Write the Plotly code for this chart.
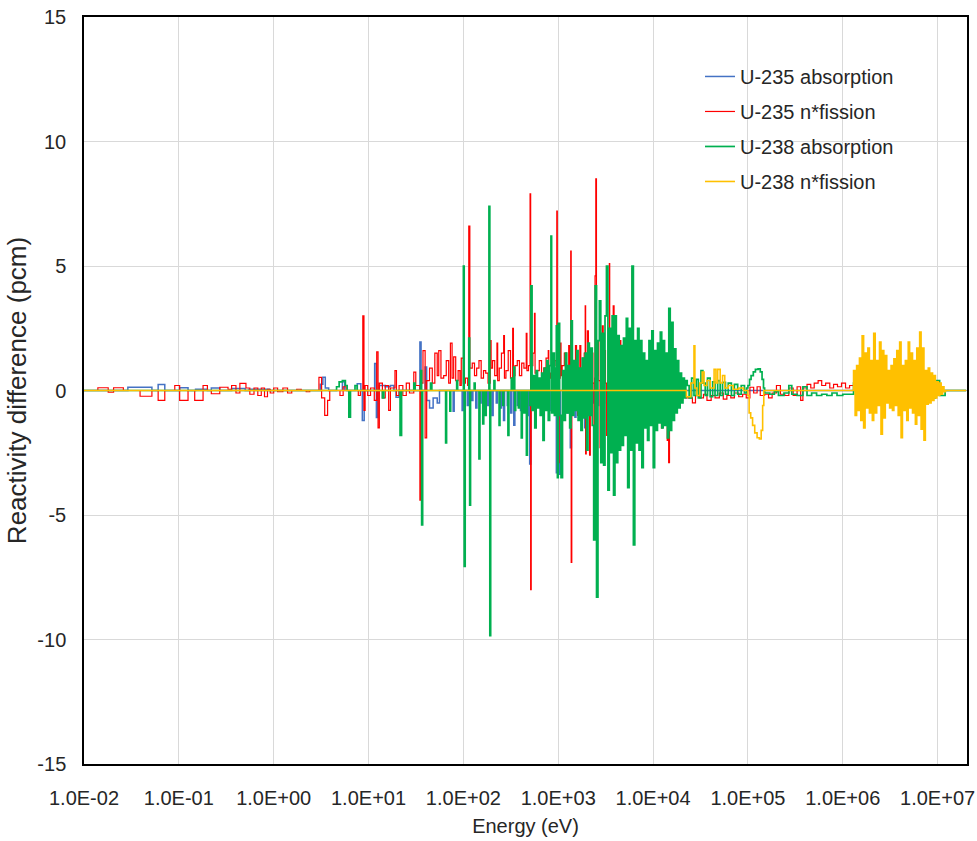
import plotly.graph_objects as go

# ---------------- data (energy in eV, reactivity difference in pcm) ----------------
# each series: (group lower energy, value) pairs, drawn as steps
u235_absorption = [
    (0.01, 0), (0.029, 0.13), (0.052, 0), (0.0605, 0.24), (0.0711, 0), (0.102, 0.11), (0.125, 0),
    (0.15, 0.05), (0.2, 0), (0.22, 0.1), (0.27, 0), (0.36, 0.08), (0.5, 0), (0.55, 0.05), (0.9, 0),
    (3.1, 0.25), (3.3, 0.53), (3.5, 0.1), (3.8, 0), (5.3, 0.35), (5.6, 0), (7.6, 0.27), (8.3, 0),
    (8.6, -1.2), (9.0, 0), (11.6, 1.08), (12.1, -1.08), (12.5, 0), (13, 0.2), (15, 0.15), (17, 0.2),
    (18.5, 0), (19.5, -0.27), (21, 0), (34.8, 1.95), (35.8, 0), (39.5, 0.94), (41, -0.4), (44, -0.7),
    (48, -0.3), (53, -0.5), (56, 0), (78, -0.83), (80, 0), (97, -0.8), (100, 0), (110, -0.6), (113, 0),
    (122, -0.4), (126, 0), (135, -0.7), (139, 0), (150, -0.5), (154, 0), (165, -0.3), (170, 0),
    (180, -0.6), (185, 0), (200, -1.0), (206, 0), (222, -0.5), (228, 0), (245, -0.7), (252, 0),
    (265, -1.2), (272, 0), (290, -0.6), (298, 0), (315, -0.9), (324, 0), (340, -1.4), (349, 0),
    (370, -0.6), (380, 0), (400, -0.8), (411, 0), (430, -0.5), (442, 0), (470, -1.0), (483, 0),
    (500, -2.95), (514, 0), (540, -0.7), (555, 0), (570, -1.3), (585, 0), (620, -0.6), (637, 0),
    (680, -0.9), (698, 0), (740, -0.5), (760, 0), (800, -0.8), (822, 0), (870, -0.6), (894, 0),
    (955, -3.3), (981, 0), (1030, -3.36), (1058, 0), (1120, -0.7), (1150, 0), (1240, -0.9), (1270, 0),
    (1340, -2.3), (1375, 0), (1500, -1.07), (1540, 0), (1640, -0.6), (1685, 0), (1800, 1.3), (1850, 0),
    (1900, -1.5), (1950, 0), (2100, -0.8), (2160, 0), (2300, -0.5), (2360, 0), (2600, -0.6), (2670, 0),
    (3000, -0.5), (3080, 0), (3500, -0.4), (3600, 0), (4200, -0.4), (4320, 0), (5200, -0.3), (5340, 0),
    (6500, -0.3), (6680, 0), (8500, -0.2), (8730, 0), (2.0e7, 0),
]

u235_nfission = [
    (0.01, 0), (0.014, 0.11), (0.018, -0.07), (0.0205, 0.11), (0.026, 0), (0.039, -0.23), (0.052, 0),
    (0.0605, -0.4), (0.0711, 0), (0.0906, 0.2), (0.102, -0.4), (0.125, 0), (0.147, -0.4), (0.18, 0.2),
    (0.2, 0), (0.22, -0.13), (0.27, 0.13), (0.33, 0.05), (0.36, 0.2), (0.4, -0.1), (0.44, 0.29),
    (0.51, 0.1), (0.56, -0.15), (0.62, 0.1), (0.68, -0.2), (0.74, 0.1), (0.8, -0.25), (0.86, 0.05),
    (0.92, -0.1), (1.0, 0.1), (1.1, -0.05), (1.25, 0.1), (1.4, -0.1), (1.55, 0), (1.75, 0.05),
    (1.95, 0), (2.2, -0.05), (2.4, 0), (3.0, 0.53), (3.2, -0.3), (3.45, -1.0), (3.7, -0.4), (3.9, 0),
    (5.0, -0.2), (5.4, 0.15), (5.8, 0), (7.8, -0.2), (8.2, 0), (8.7, 3.0), (8.95, -0.8), (9.2, 0.2),
    (9.8, -0.2), (10.5, 0.1), (11.5, -0.4), (12.2, 1.55), (12.6, -1.5), (13.0, 0.3), (14, -0.3),
    (15, 0.2), (16.3, -0.8), (17, 0.1), (19, 0.8), (19.7, -0.2), (21, 0.2), (23, -0.2), (25, 0.3),
    (27, -0.1), (30, 0.74), (31.5, 0.2), (34.8, -4.4), (35.8, 0.3), (37.5, 1.6), (39.5, -1.9),
    (41, 0.4), (44, 0.9), (47, 0.3), (50, 1.5), (53, 0.6), (55, 1.6), (58, 0.5), (62, 0.6), (66, 1.2),
    (70, 0.3), (73, 1.9), (76, 0.5), (79, 1.35), (83, 0.4), (88, 0.8), (92, 0.2),
    (95, 1.3), (100, 0.3), (105, 0.5), (111, 0.2), (114, 6.6), (117, 0.9), (124, 1.1), (131, 0.6),
    (138, 0.9), (146, 1.2), (154, 0.5), (163, 0.8), (172, 0.7), (182, 0.3), (192, 2.0), (196, 0.9),
    (203, 1.2), (214, 0.6), (226, 1.9), (230, 0.4), (239, 0.9), (252, 1.5), (266, 2.2), (271, 0.5),
    (281, 0.8), (297, 1.6), (314, 0.5), (331, 2.5), (337, 0.6), (350, 1.0), (370, 1.2), (390, 0.6),
    (412, 1.1), (435, 0.9), (460, 2.3), (468, 0.8), (486, 1.0), (505, 7.9), (512, -8.0), (519, 1.0),
    (540, 1.5), (562, 3.1), (570, 0.7), (598, 0.8), (631, 1.2), (667, 0.6), (704, 0.9), (744, 1.3),
    (785, 1.6), (795, 0.5), (829, 0.7), (876, 1.0), (925, 1.2), (966, 7.2), (978, 0.8), (1005, -2.9),
    (1020, 0.5), (1050, 1.9), (1070, 0.6), (1100, 1.0), (1160, 1.5), (1220, -0.5), (1250, 0.6),
    (1290, 1.8), (1320, 0.4), (1355, 5.6), (1370, -6.9), (1390, 0.6), (1440, 1.0), (1520, 1.8),
    (1560, 0.4), (1600, -1.0), (1640, 0.5), (1690, 1.8), (1730, 0.3), (1780, 0.8), (1880, 1.5),
    (1925, 3.4), (1945, -2.55), (1975, 0.6), (2030, 2.4), (2080, 0.5), (2140, -2.6), (2180, 0.3),
    (2260, 1.5), (2320, 0.3), (2380, -2.4), (2420, 0.5), (2445, 4.6), (2490, 8.5), (2530, -2.0),
    (2570, 0.6), (2620, 2.0), (2680, 0.4), (2760, -2.3), (2820, 0.5), (2910, 2.6), (2980, 0.4),
    (3070, 1.6), (3150, 0.3), (3240, -1.8), (3320, 0.4), (3420, 2.0), (3460, 5.1), (3490, -2.0),
    (3530, 0.5), (3600, 1.2), (3700, 0.4), (3800, 3.4), (3880, 0.6), (4000, 2.5), (4100, 0.3),
    (4230, -1.6), (4330, 0.2), (4460, 2.0), (4570, 0.4), (4700, -1.7), (4820, 0.3), (4960, 1.8),
    (5080, 0.4), (5240, -1.2), (5370, 0.3), (5530, 1.5), (5670, 0.3), (5840, -1.5), (5950, 0.3),
    (6020, 4.9), (6070, 1.0), (6200, 0.3), (6400, -1.0), (6560, 0.3), (6760, 1.5), (6930, 0.3),
    (7130, 0.8), (7310, 0.2), (7530, -1.2), (7720, 0.3), (7950, 1.0), (8150, 0.2), (8390, 0.6),
    (8600, 0.1), (8860, -1.0), (9080, 0.2), (9350, 0.8), (9580, 0.1), (9870, -0.8), (10120, 0.1),
    (10420, 0.5), (10680, 0), (11000, -0.6), (11300, 0), (11610, 0.4), (11900, 0), (12260, -1.5),
    (12560, -0.3), (12940, -0.5), (13300, 0), (13660, 0.3), (14100, -2.0), (14400, -0.2),
    (14600, -2.9), (14900, -0.3), (15200, -0.8), (15600, -0.2), (16050, -1.0), (16450, -0.2),
    (16950, -0.4), (17400, -0.1), (17900, -0.6), (18400, -0.1), (18900, -0.3), (19400, 0),
    (19950, -0.4), (20500, -0.1), (21100, -0.2), (21700, 0), (22300, -0.3),
    (23500, -0.3), (26000, -0.5), (28000, -0.2), (31000, -0.3), (34000, -0.15), (37000, -0.4),
    (41000, -0.2), (45000, -0.3), (50000, -0.1), (55000, -0.35), (60000, -0.2), (66000, -0.3),
    (72000, -0.1), (80000, -0.25), (88000, -0.15), (96000, -0.3), (105000, 0.13), (115000, -0.1),
    (125000, 0.15), (135000, -0.2), (150000, -0.15), (165000, -0.3), (180000, -0.1), (200000, 0.2),
    (220000, -0.15), (245000, -0.2), (270000, 0.1), (300000, -0.2), (330000, 0.15), (360000, -0.4),
    (380000, 0.1), (420000, 0.25), (460000, 0.1), (500000, 0.3), (550000, 0.4), (600000, 0.2),
    (660000, 0.3), (730000, 0.1), (800000, 0.25), (880000, 0.15), (970000, 0.3), (1070000, 0.1),
    (1180000, 0.2), (1300000, 0.15), (1400000, 0), (2.0e7, 0),
]

u238_absorption = [
    (0.01, 0), (4.6, 0.15), (4.9, 0.35), (5.3, 0.4), (5.7, 0.2), (5.95, 0), (6.2, -1.07), (6.45, 0),
    (7.2, 0.2), (7.6, 0), (14, -0.3), (14.5, 0), (21.5, -1.8), (22.3, 0), (30, 0.3), (31, 0),
    (35.5, 0.8), (36.3, -5.4), (37.2, 0), (45, 0.3), (46.5, 0), (65, -2.1), (66.5, 0), (72, -0.83),
    (73.5, 0), (85, 0.4), (87, 0), (100, 5.0), (102, -7.06), (104.5, 0), (114, 2.1), (116.5, -4.6),
    (119, 0), (130, 0.3), (133, 0), (146, -2.75), (149.5, 0), (160, -1.34), (164, 0), (170, -1.0),
    (174, 0), (186, 7.4), (190, -9.85), (194, 0), (210, 0.4), (215, 0), (238, -1.4), (243, 0),
    (260, -0.6), (266, 0), (295, -1.8), (302, 0), (320, 0.5), (327, 0), (340, 0.94), (348, -0.8),
    (356, 0), (380, -0.7), (389, 0), (408, -1.9), (418, 0), (435, -0.9), (445, 0), (462, -2.6),
    (473, 0),
    (500, -0.6), (515, 4.2), (530, -0.8), (548, 0.6), (566, -1.5), (585, 0.8), (605, -0.7),
    (625, 0.5), (645, -1.0), (668, 0.7), (690, -2.0), (712, 0.9), (735, -0.8), (760, 1.2),
    (785, -1.2), (812, 1.0), (838, 6.2), (852, -0.9), (880, 1.5), (910, -1.0), (940, 0.9),
    (955, 2.6), (980, -3.5),
    (1000, 2.7), (1035, -1.0), (1070, -3.5), (1110, 0.8), (1150, -1.2), (1190, 1.5), (1230, -0.9),
    (1275, 1.0), (1320, -1.5), (1365, 2.8), (1410, -1.0), (1460, 1.2), (1510, -0.8), (1565, 1.6),
    (1620, -1.2), (1675, 0.9), (1735, -1.6), (1795, 1.3), (1860, -1.1), (1925, 1.5), (1990, -2.4),
    (2060, 1.9), (2130, -1.0), (2210, 1.7), (2285, -1.4), (2365, -6.0), (2450, 4.2), (2535, -8.3),
    (2625, 2.0), (2715, 3.6), (2810, -2.9), (2910, 2.3), (3010, -3.0), (3115, 3.0), (3225, 5.0),
    (3340, -4.0), (3455, 2.5), (3575, -2.5), (3700, 3.0), (3830, -4.2), (3965, 3.0), (4100, -2.9),
    (4245, 2.2), (4395, -2.4), (4550, 1.8), (4710, -2.2), (4875, 2.1), (5045, -1.8), (5220, 2.9),
    (5400, -3.9), (5590, 2.5), (5790, -2.4), (5990, 5.0), (6200, -6.2), (6420, 2.0), (6640, -2.1),
    (6870, 2.5), (7110, -2.4), (7360, 2.0), (7620, -3.1), (7890, 1.5), (8160, -1.5), (8450, 1.2),
    (8740, -2.0), (9050, 2.0), (9370, -1.4), (9700, 2.4), (10040, -3.1), (10390, 1.6), (10750, -1.6),
    (11130, 1.9), (11520, -1.3), (11920, 2.35), (12340, -1.5), (12770, 2.0), (13220, -1.4),
    (13680, 1.5), (14160, -1.9), (14650, 3.3), (15170, -1.6), (15700, 2.74), (16250, -1.2),
    (16820, 1.67), (17400, -0.9), (18010, 1.2), (18640, -0.7), (19300, 0.7), (19970, -0.5),
    (20670, 0.5), (21400, -0.3), (22150, 0.4), (22920, 0.2),
    (24000, -0.3), (25500, 0.5), (27000, -0.2), (28500, 0.45), (30000, -0.3), (32000, 0.8),
    (33500, 0.3), (35500, -0.2), (37500, 0.5), (40000, -0.25), (42500, 0.35), (45000, -0.2),
    (48000, 0.4), (51000, -0.2), (54000, 0.33), (58000, -0.15), (62000, 0.3), (67000, -0.2),
    (72000, 0.25), (78000, -0.15), (85000, 0.2), (92000, -0.1), (97000, 0.1),
    (100000, 0.2), (104000, 0.45), (108000, 0.6), (114000, 0.75), (120000, 0.85), (128000, 0.87),
    (135000, 0.75), (141000, 0.45), (146000, 0.1), (150000, -0.1), (170000, -0.15), (190000, -0.05),
    (210000, -0.2), (240000, -0.1), (270000, 0.2), (290000, -0.15), (330000, -0.2), (380000, 0.15),
    (420000, -0.2), (470000, -0.1), (530000, -0.2), (600000, -0.15), (680000, -0.2), (770000, -0.1),
    (870000, -0.2), (1000000, -0.15), (1300000, 0.3), (1450000, -0.2), (1600000, -0.5),
    (1750000, 0.2), (2000000, 0.2), (2250000, -0.3), (2500000, -0.3), (2750000, 0.2),
    (3000000, 0.5), (3300000, 0.1), (3600000, -0.2), (4000000, 0.2), (4400000, 0.45),
    (4800000, -0.2), (5200000, -0.3), (5600000, 0.3), (6000000, 0.5), (6500000, -0.2),
    (7000000, 0.3), (8000000, -0.3), (9500000, 0.4), (10500000, -0.2), (12000000, 0), (2.0e7, 0),
]

u238_nfission = [
    (0.01, 0), (20000, 0), (22500, -0.25), (25000, 0.3), (27000, 1.8), (27600, 0.1), (29000, -0.2),
    (31000, 0.3), (33000, 0.74), (34500, 0.2), (37000, 0.4), (40000, 0.1), (44000, 0.85),
    (46000, 0.3), (48000, 0.85), (51000, 0.3), (54000, 0.6), (57000, 0.1), (62000, 0.2),
    (70000, 0.05), (80000, 0.1), (90000, 0),
    (100000, -0.2), (103000, -0.9), (107000, -1.1), (112000, -1.4), (118000, -1.7), (125000, -1.9),
    (132000, -1.95), (138000, -1.6), (143000, -0.6), (147000, 0),
    (1.30e6, 0.8), (1.35e6, -1.0), (1.40e6, 1.0), (1.45e6, -0.8), (1.50e6, 1.3), (1.55e6, -1.2),
    (1.60e6, 2.2), (1.66e6, -1.5), (1.72e6, 1.5), (1.78e6, -0.7), (1.84e6, 1.7), (1.91e6, -0.9),
    (1.98e6, 1.2), (2.05e6, -1.2), (2.12e6, 2.3), (2.20e6, -0.9), (2.28e6, 1.2), (2.36e6, -0.6),
    (2.44e6, 1.95), (2.53e6, -1.75), (2.62e6, 1.6), (2.71e6, -1.1), (2.81e6, 1.4), (2.91e6, -0.5),
    (3.01e6, 0.8), (3.12e6, -0.7), (3.23e6, 1.0), (3.34e6, -0.8), (3.46e6, 1.27), (3.58e6, -0.6),
    (3.71e6, 1.6), (3.84e6, -1.0), (3.98e6, 1.95), (4.12e6, -1.9), (4.26e6, 1.0), (4.41e6, -0.8),
    (4.57e6, 1.2), (4.73e6, -1.2), (4.90e6, 1.95), (5.07e6, -0.7), (5.25e6, 1.5), (5.44e6, -0.9),
    (5.63e6, 1.2), (5.83e6, -1.35), (6.03e6, 1.7), (6.25e6, -1.0), (6.47e6, 2.35), (6.70e6, -1.55),
    (6.93e6, 1.7), (7.18e6, -2.0), (7.43e6, 0.8), (7.70e6, -0.55), (7.97e6, 0.9), (8.25e6, -0.5),
    (8.54e6, 0.7), (8.85e6, -0.4), (9.16e6, 0.6), (9.48e6, -0.3), (9.82e6, 0.35), (1.017e7, -0.2),
    (1.053e7, 0.3), (1.09e7, -0.15), (1.128e7, 0.15), (1.168e7, -0.05), (1.21e7, 0), (2.0e7, 0),
]

series_names = ["U-235 absorption", "U-235 n*fission", "U-238 absorption", "U-238 n*fission"]
series_data = [u235_absorption, u235_nfission, u238_absorption, u238_nfission]
series_colors = ["#4472C4", "#FF0000", "#00B050", "#FFC000"]
series_widths = [1.5, 1.2, 1.7, 1.6]

x_tick_values = [1e-2, 1e-1, 1e0, 1e1, 1e2, 1e3, 1e4, 1e5, 1e6, 1e7]
x_tick_labels = ["1.0E-02", "1.0E-01", "1.0E+00", "1.0E+01", "1.0E+02",
                 "1.0E+03", "1.0E+04", "1.0E+05", "1.0E+06", "1.0E+07"]
y_tick_values = [-15, -10, -5, 0, 5, 10, 15]
y_tick_labels = ["-15", "-10", "-5", "0", "5", "10", "15"]

# ---------------- figure ----------------
fig = go.Figure()
for name, data, color, width in zip(series_names, series_data, series_colors, series_widths):
    xs = [p[0] for p in data]
    ys = [p[1] for p in data]
    fig.add_trace(go.Scatter(
        x=xs, y=ys, mode="lines", name=name, legendgroup=name,
        line=dict(color=color, width=width, shape="hv"),
    ))

font_family = "Liberation Sans, Arial, sans-serif"
text_color = "#262626"
fig.update_layout(
    width=977, height=841,
    margin=dict(l=84, r=10, t=17, b=77, autoexpand=False),
    paper_bgcolor="white", plot_bgcolor="white",
    font=dict(family=font_family, size=20, color=text_color),
    showlegend=True,
    legend=dict(x=0.6976, y=0.9465, xanchor="left", yanchor="top",
                bgcolor="rgba(0,0,0,0)", tracegroupgap=6,
                font=dict(size=20, color=text_color)),
)
fig.update_xaxes(
    type="log", range=[-2, 7.31], automargin=False,
    tickvals=x_tick_values, ticktext=x_tick_labels,
    tickfont=dict(size=20),
    showgrid=True, gridcolor="#d9d9d9", gridwidth=1,
    showline=True, linecolor="black", linewidth=1.5, mirror=True,
    ticks="", ticklabelstandoff=15,
    title=dict(text="Energy (eV)", standoff=11, font=dict(size=20)),
    zeroline=False,
)
fig.update_yaxes(
    range=[-15, 15], automargin=False,
    tickvals=y_tick_values, ticktext=y_tick_labels,
    tickfont=dict(size=20),
    showgrid=True, gridcolor="#d9d9d9", gridwidth=1,
    showline=True, linecolor="black", linewidth=1.5, mirror=True,
    ticks="", ticklabelstandoff=12,
    title=dict(text="Reactivity difference (pcm)", standoff=3, font=dict(size=26)),
    zeroline=False,
)

fig.write_html("out.html")
